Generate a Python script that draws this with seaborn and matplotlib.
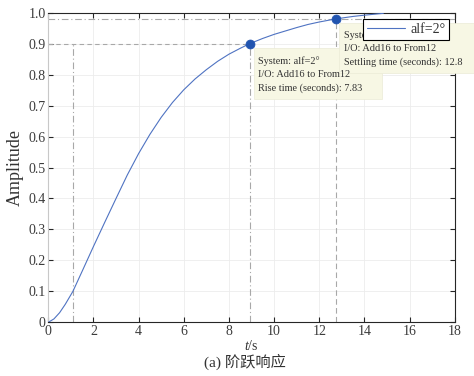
import numpy as np
import pandas as pd
import matplotlib
matplotlib.use("Agg")
import matplotlib.pyplot as plt
import matplotlib.transforms as mtransforms
from matplotlib.patches import Rectangle
import seaborn as sns

# Step response of alf=2° (Add16 -> From12)
t = [0.0, 0.25, 0.5, 0.75, 1.09, 1.5, 2.0, 2.5, 3.0, 3.5, 4.0, 4.5, 5.0, 5.5,
     6.0, 6.5, 7.0, 7.5, 8.0, 8.5, 8.92, 9.5, 10.0, 10.5, 11.0, 11.5, 12.0,
     12.73, 13.5, 14.0, 14.84]
amplitude = [0.0, 0.011, 0.031, 0.058, 0.10, 0.165, 0.245, 0.323, 0.40, 0.476,
             0.545, 0.607, 0.662, 0.710, 0.751, 0.786, 0.816, 0.843, 0.866,
             0.885, 0.90, 0.917, 0.930, 0.941, 0.952, 0.962, 0.970, 0.980,
             0.988, 0.992, 0.998]

series_label = "alf=2°"
rise_start = 1.09
rise_end = 8.92
rise_time = 7.83
settling_time = 12.8
settling_t = 12.73
settling_level = 0.98
rise_level = 0.9

x_ticks = list(range(0, 19, 2))
y_ticks = [0, 0.1, 0.2, 0.3, 0.4, 0.5, 0.6, 0.7, 0.8, 0.9, 1.0]
y_ticklabels = ["0", "0.1", "0.2", "0.3", "0.4", "0.5", "0.6", "0.7", "0.8", "0.9", "1.0"]

sns.set_style("ticks")
plt.rcParams["font.family"] = ["Liberation Serif", "Noto Sans CJK SC"]
plt.rcParams["mathtext.fontset"] = "custom"
plt.rcParams["mathtext.rm"] = "Liberation Serif"
plt.rcParams["mathtext.it"] = "Liberation Serif:italic"

df = pd.DataFrame({"t": t, "Amplitude": amplitude})

fig = plt.figure(figsize=(4.74, 3.76), dpi=100)
ax = fig.add_axes([0.1019, 0.1428, 0.8574, 0.8234])

line_c = "#4f73c2"
dot_c = "#2154b0"
ref_c = "#a8a8a8"

# reference lines for rise / settling characteristics
ax.axhline(settling_level, color=ref_c, lw=0.8, ls=(0, (6, 2.5, 1, 2.5)), zorder=1.5)
ax.plot([0, rise_end], [rise_level, rise_level], color=ref_c, lw=0.8,
        ls=(0, (4, 3)), zorder=1.5)
ax.plot([rise_start, rise_start], [0, rise_level], color=ref_c, lw=0.8,
        ls=(0, (6, 2.5, 1, 2.5)), zorder=1.5)
ax.plot([rise_end, rise_end], [0, rise_level], color=ref_c, lw=0.8,
        ls=(0, (6, 2.5, 1, 2.5)), zorder=1.5)
ax.plot([settling_t, settling_t], [0, settling_level], color=ref_c, lw=0.8,
        ls=(0, (5, 3)), zorder=1.5)

sns.lineplot(data=df, x="t", y="Amplitude", ax=ax, color=line_c, lw=0.8,
             label=series_label, zorder=3)
pts = pd.DataFrame({"t": [rise_end, settling_t],
                    "Amplitude": [rise_level, settling_level]})
sns.scatterplot(data=pts, x="t", y="Amplitude", ax=ax, color=dot_c, s=42,
                edgecolor=dot_c, linewidth=0.5, zorder=3.5, legend=False)

ax.set_xlim(0, 18)
ax.set_ylim(0, 1.0)
ax.set_xticks(x_ticks)
ax.set_yticks(y_ticks)
ax.set_yticklabels(y_ticklabels)
ax.grid(True, color="#ececec", lw=0.6)
ax.set_axisbelow(True)
ax.tick_params(direction="in", length=3.5, width=0.8, colors="#262626",
               labelcolor="#3c3c3c", labelsize=10, top=True, right=True, pad=2)
for side in ["bottom", "right", "top"]:
    ax.spines[side].set_color("#262626")
    ax.spines[side].set_linewidth(0.8)
ax.spines["left"].set_color("#c8c8c8")
ax.spines["left"].set_linewidth(0.8)

ax.set_xlabel("$t$/s", fontsize=10, color="#333333", labelpad=1)
ax.set_ylabel("Amplitude", fontsize=13, color="#333333", labelpad=3)

# data-tip boxes anchored at the marked points
box_c = "#f7f7e4"
def data_tip(x0, y0, rect, lines, first_dy):
    tr = fig.dpi_scale_trans + mtransforms.ScaledTranslation(x0, y0, ax.transData)
    dx, dy, w, h = [v / 100.0 for v in rect]
    ax.add_patch(Rectangle((dx, -dy - h), w, h, transform=tr, facecolor=box_c,
                           edgecolor="#ebebd6", lw=0.5, zorder=4, clip_on=False))
    for i, s in enumerate(lines):
        ax.text(dx + 0.046, -(first_dy + i * 13.4) / 100.0, s, transform=tr,
                fontsize=7.4, color="#333333", ha="left", va="center",
                zorder=4.2, clip_on=False)

data_tip(rise_end, rise_level, (4, 4, 128.7, 51.7),
         ["System: " + series_label, "I/O: Add16 to From12",
          "Rise time (seconds): %.2f" % rise_time], 17.7)
data_tip(settling_t, settling_level, (3.6, 4.3, 140, 49.4),
         ["System: " + series_label, "I/O: Add16 to From12",
          "Settling time (seconds): %.1f" % settling_time], 16.0)

leg = ax.legend(loc="upper right", bbox_to_anchor=(0.9867, 0.9797),
                borderaxespad=0, frameon=True, fancybox=False, fontsize=10,
                handlelength=2.8, handletextpad=0.35, borderpad=0.28,
                labelcolor="#333333")
leg.get_frame().set_edgecolor("black")
leg.get_frame().set_linewidth(0.8)
leg.get_frame().set_alpha(1)
leg.set_zorder(6)

fig.text(245 / 474, 1 - 362 / 376, "(a) 阶跃响应", ha="center", va="center",
         fontsize=11, color="#333333")

fig.savefig("out.png", dpi=100)
